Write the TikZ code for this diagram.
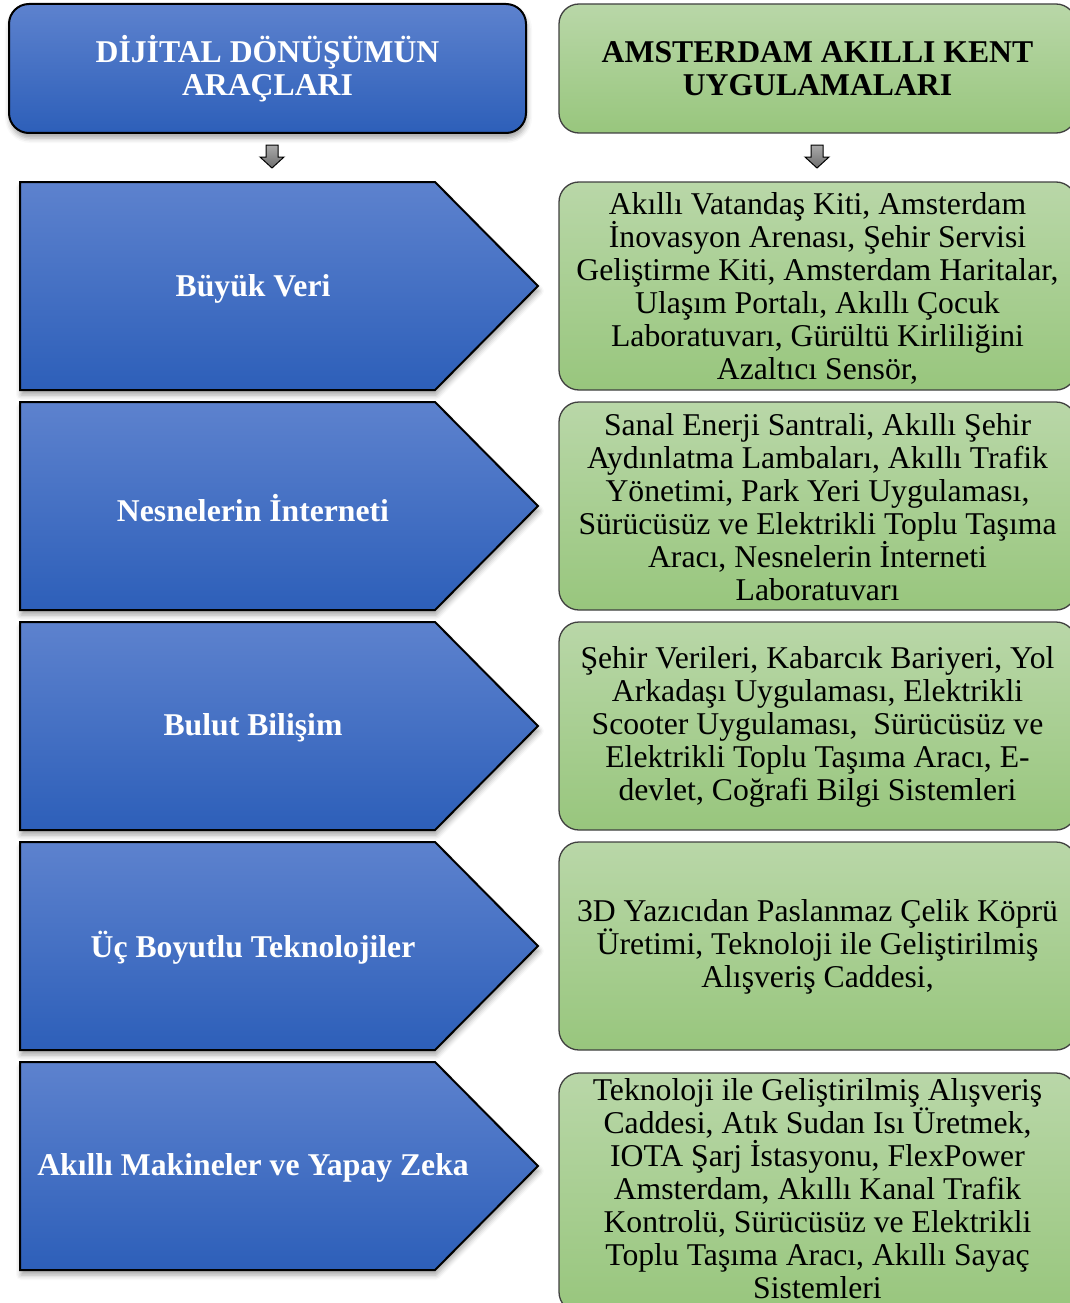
\documentclass[tikz,border=0pt]{standalone}
\usepackage{fontspec}
\setmainfont{Liberation Serif}
\usetikzlibrary{shadows.blur}

\definecolor{bluetop}{RGB}{93,130,206}
\definecolor{bluebot}{RGB}{45,95,185}
\definecolor{greentop}{RGB}{185,215,168}
\definecolor{greenbot}{RGB}{152,198,125}
\definecolor{arrowtop}{RGB}{170,170,170}
\definecolor{arrowbot}{RGB}{110,110,110}

\tikzset{
  blueshape/.style={draw=black, line width=2pt, top color=bluetop, bottom color=bluebot,
    blur shadow={shadow xshift=1pt, shadow yshift=-5pt, shadow blur radius=5pt, shadow opacity=35}},
  greenshape/.style={draw=black!75, line width=1.3pt, top color=greentop, bottom color=greenbot,
    rounded corners=20pt},
  headblue/.style={text=white, font=\fontsize{31.7}{33}\selectfont\bfseries, align=center},
  headgreen/.style={text=black, font=\fontsize{31.7}{33}\selectfont\bfseries, align=center},
  tooltext/.style={text=white, font=\fontsize{31.7}{33}\selectfont\bfseries, align=center},
  apptext/.style={text=black, font=\fontsize{31.7}{33}\selectfont, align=center, inner sep=0pt},
  downarrow/.style={draw=black, line width=1pt, top color=arrowtop, bottom color=arrowbot}
}

\begin{document}
\begin{tikzpicture}[x=1pt, y=-1pt]
  \useasboundingbox (0,0) rectangle (1070,1303);
  \clip (0,0) rectangle (1070,1303);

  % column headers
  \path[blueshape, rounded corners=20pt] (9,4) rectangle (526,133);
  \node[headblue] (headtools) at (267.5,68.5) {DİJİTAL DÖNÜŞÜMÜN\\ARAÇLARI};
  \path[greenshape] (559,4) rectangle (1076,133);
  \node[headgreen] (headapps) at (817.5,68.5) {AMSTERDAM AKILLI KENT\\UYGULAMALARI};

  % small down arrows under the headers
  \foreach \ax in {272,817}{
    \path[downarrow] (\ax-6,145) -- (\ax+6,145) -- (\ax+6,157) -- (\ax+12,157)
      -- (\ax,168) -- (\ax-12,157) -- (\ax-6,157) -- cycle;
  }

  % pentagon arrows for the tools
  \foreach \top in {182,402,622,842,1062}{
    \path[blueshape] (20,\top) -- (435,\top) -- (538,\top+104) -- (435,\top+208)
      -- (20,\top+208) -- cycle;
  }
  \node[tooltext] (t1) at (253,289) {Büyük Veri};
  \node[tooltext] (t2) at (253,508) {Nesnelerin İnterneti};
  \node[tooltext] (t3) at (253,728) {Bulut Bilişim};
  \node[tooltext] (t4) at (253,948) {Üç Boyutlu Teknolojiler};
  \node[tooltext] (t5) at (253,1168) {Akıllı Makineler ve Yapay Zeka};

  % application boxes
  \path[greenshape] (559,182) rectangle (1076,390);
  \path[greenshape] (559,402) rectangle (1076,610);
  \path[greenshape] (559,622) rectangle (1076,830);
  \path[greenshape] (559,842) rectangle (1076,1050);
  \path[greenshape] (559,1073) rectangle (1076,1312);

  \node[apptext] (a1) at (817.5,288) {Akıllı Vatandaş Kiti, Amsterdam\\
    İnovasyon Arenası, Şehir Servisi\\ Geliştirme Kiti, Amsterdam Haritalar,\\
    Ulaşım Portalı, Akıllı Çocuk\\ Laboratuvarı, Gürültü Kirliliğini\\ Azaltıcı Sensör,};
  \node[apptext] (a2) at (817.5,507.5) {Sanal Enerji Santrali, Akıllı Şehir\\
    Aydınlatma Lambaları, Akıllı Trafik\\ Yönetimi, Park Yeri Uygulaması,\\
    Sürücüsüz ve Elektrikli Toplu Taşıma\\ Aracı, Nesnelerin İnterneti\\ Laboratuvarı};
  \node[apptext] (a3) at (817.5,727) {Şehir Verileri, Kabarcık Bariyeri, Yol\\
    Arkadaşı Uygulaması, Elektrikli\\ Scooter Uygulaması,\ \ Sürücüsüz ve\\
    Elektrikli Toplu Taşıma Aracı, E-\\ devlet, Coğrafi Bilgi Sistemleri};
  \node[apptext] (a4) at (817.5,947) {3D Yazıcıdan Paslanmaz Çelik Köprü\\
    Üretimi, Teknoloji ile Geliştirilmiş\\ Alışveriş Caddesi,};
  \node[apptext] (a5) at (817.5,1189) {Teknoloji ile Geliştirilmiş Alışveriş\\
    Caddesi, Atık Sudan Isı Üretmek,\\ IOTA Şarj İstasyonu, FlexPower\\
    Amsterdam, Akıllı Kanal Trafik\\ Kontrolü, Sürücüsüz ve Elektrikli\\
    Toplu Taşıma Aracı, Akıllı Sayaç\\ Sistemleri};
\end{tikzpicture}
\end{document}
